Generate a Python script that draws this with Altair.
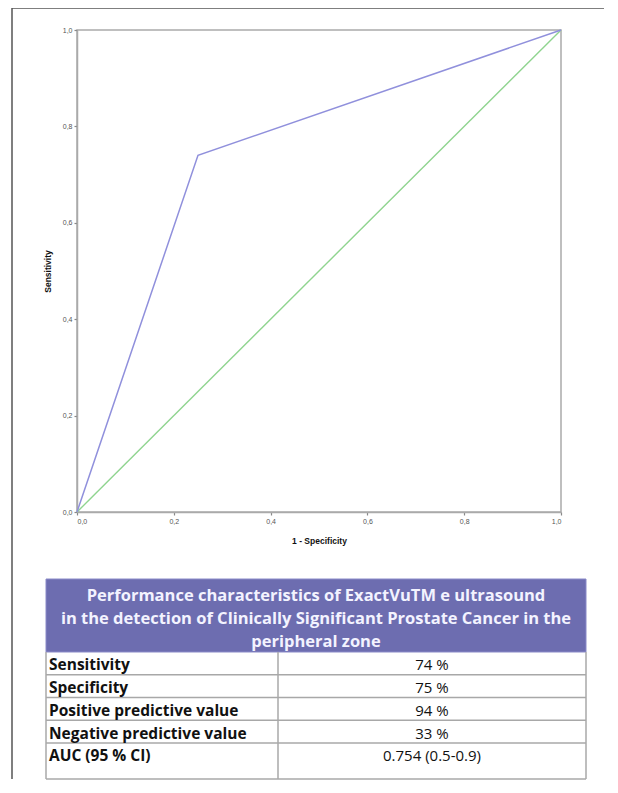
import altair as alt
import pandas as pd

# ---------------- data ----------------
fpr = [0.0, 0.25, 1.0]
tpr = [0.0, 0.74, 1.0]
ref_x = [0.0, 1.0]
ref_y = [0.0, 1.0]
tick_vals = [0.0, 0.2, 0.4, 0.6, 0.8, 1.0]

header_lines = [
    "Performance characteristics of ExactVuTM e ultrasound",
    "in the detection of Clinically Significant Prostate Cancer in the",
    "peripheral zone",
]
metrics = [
    "Sensitivity",
    "Specificity",
    "Positive predictive value",
    "Negative predictive value",
    "AUC (95 % CI)",
]
values = ["74 %", "75 %", "94 %", "33 %", "0.754 (0.5-0.9)"]

# ---------------- layout constants ----------------
W, H = 484, 482            # ROC plot area
TW, TH = 540, 200          # table size
T_OFF = -31                # table left edge relative to ROC plot left
HEADER_H = 73
ROW_H = 22.75
COL_DIV = 232
HEAD_LINE_H = 23
HEAD_SHIFT = 3.5
ROW_SHIFT = 2

AX_FONT = "Liberation Sans"
TB_FONT = "Open Sans"
ROC_COLOR = "#9090dc"
DIAG_COLOR = "#8fd48f"
PURPLE = "#6d6db0"
GRID = "#a8a8a8"

comma = "replace(format(datum.value, '.1f'), '.', ',')"

def xaxis():
    return alt.Axis(values=tick_vals, labelExpr=comma, title="1 - Specificity",
                    grid=False, labelFont=AX_FONT, labelFontSize=7, labelColor="#555555",
                    tickColor="#888888", tickSize=3, tickWidth=1.2,
                    domainColor="#aaaaaa", domainWidth=1.5,
                    titleFont=AX_FONT, titleFontSize=8.5, titleFontWeight="bold",
                    titleColor="#111111", titlePadding=12, labelPadding=2)

def yaxis():
    return alt.Axis(values=tick_vals, labelExpr=comma, title="Sensitivity",
                    grid=False, labelFont=AX_FONT, labelFontSize=7, labelColor="#555555",
                    tickColor="#888888", tickSize=3, tickWidth=1.2,
                    domainColor="#aaaaaa", domainWidth=1.5,
                    titleFont=AX_FONT, titleFontSize=8.5, titleFontWeight="bold",
                    titleColor="#111111", titlePadding=10, labelPadding=2)

xs = alt.Scale(domain=[0, 1], nice=False, zero=False)
ys = alt.Scale(domain=[0, 1], nice=False, zero=False)

diag_df = pd.DataFrame({"fpr": ref_x, "tpr": ref_y, "o": [0, 1]})
roc_df = pd.DataFrame({"fpr": fpr, "tpr": tpr, "o": list(range(len(fpr)))})

diag = alt.Chart(diag_df).mark_line(color=DIAG_COLOR, strokeWidth=1.4).encode(
    x=alt.X("fpr:Q", scale=xs, axis=xaxis()),
    y=alt.Y("tpr:Q", scale=ys, axis=yaxis()),
    order="o:Q",
)
roc = alt.Chart(roc_df).mark_line(color=ROC_COLOR, strokeWidth=1.5).encode(
    x=alt.X("fpr:Q", scale=xs, axis=xaxis()),
    y=alt.Y("tpr:Q", scale=ys, axis=yaxis()),
    order="o:Q",
)

one = pd.DataFrame({"k": [0]})
frame_left = alt.Chart(one).mark_rule(color="#555555", strokeWidth=1.5).encode(
    x=alt.value(-65), y=alt.value(-22), y2=alt.value(749))
frame_top = alt.Chart(one).mark_rule(color="#555555", strokeWidth=1.5).encode(
    x=alt.value(-65), x2=alt.value(527), y=alt.value(-22))

roc_chart = alt.layer(frame_left, frame_top, diag, roc).properties(
    width=W, height=H,
    view=alt.ViewBackground(stroke="#aaaaaa", strokeWidth=1.5),
)

# ---------------- table ----------------
tx = alt.Scale(domain=[0, TW], range=[T_OFF, T_OFF + TW], nice=False, zero=False)
ty = alt.Scale(domain=[0, TH], range=[0, TH], nice=False, zero=False)

head_df = pd.DataFrame({"x": [0], "x2": [TW], "y": [0], "y2": [HEADER_H]})
header = alt.Chart(head_df).mark_rect(color=PURPLE, stroke="#8a8ac8", strokeWidth=1).encode(
    x=alt.X("x:Q", scale=tx, axis=None), x2="x2:Q",
    y=alt.Y("y:Q", scale=ty, axis=None), y2="y2:Q",
)

htext_df = pd.DataFrame({
    "t": header_lines,
    "x": [TW / 2] * len(header_lines),
    "y": [HEADER_H / 2 + HEAD_SHIFT + (i - (len(header_lines) - 1) / 2) * HEAD_LINE_H
          for i in range(len(header_lines))],
})
htext = alt.Chart(htext_df).mark_text(font=TB_FONT, fontSize=16.5, fontWeight="bold",
                                      color="#f3f3ff", align="center", baseline="middle").encode(
    x=alt.X("x:Q", scale=tx, axis=None), y=alt.Y("y:Q", scale=ty, axis=None), text="t:N")

n = len(metrics)
tops = [HEADER_H + i * ROW_H for i in range(n)]
rows_df = pd.DataFrame({
    "m": metrics, "v": values,
    "y": [t + ROW_H / 2 + ROW_SHIFT for t in tops],
    "xl": [3] * n,
    "xv": [(COL_DIV + TW) / 2] * n,
})
mtext = alt.Chart(rows_df).mark_text(font=TB_FONT, fontSize=15.5, fontWeight="bold",
                                     color="#111111", align="left", baseline="middle").encode(
    x=alt.X("xl:Q", scale=tx, axis=None), y=alt.Y("y:Q", scale=ty, axis=None), text="m:N")
vtext = alt.Chart(rows_df).mark_text(font=TB_FONT, fontSize=15,
                                     color="#111111", align="center", baseline="middle").encode(
    x=alt.X("xv:Q", scale=tx, axis=None), y=alt.Y("y:Q", scale=ty, axis=None), text="v:N")

hl_df = pd.DataFrame({"y": tops[1:] + [TH], "x": [0] * n, "x2": [TW] * n})
hlines = alt.Chart(hl_df).mark_rule(color=GRID, strokeWidth=1.5).encode(
    x=alt.X("x:Q", scale=tx, axis=None), x2="x2:Q", y=alt.Y("y:Q", scale=ty, axis=None))

vl_df = pd.DataFrame({"x": [0, COL_DIV, TW], "y": [HEADER_H] * 3, "y2": [TH] * 3})
vlines = alt.Chart(vl_df).mark_rule(color=GRID, strokeWidth=1.5).encode(
    x=alt.X("x:Q", scale=tx, axis=None), y=alt.Y("y:Q", scale=ty, axis=None), y2="y2:Q")

table_chart = alt.layer(header, hlines, vlines, htext, mtext, vtext).properties(
    width=W, height=TH,
    view=alt.ViewBackground(stroke="transparent"),
)

chart = alt.vconcat(roc_chart, table_chart, spacing=67, bounds="flush").properties(
    padding={"left": 2, "top": -2, "right": 0, "bottom": 0},
    background="white",
).configure_view(stroke="transparent")

chart.save("out.html", embed_options={"renderer": "svg", "actions": False})
